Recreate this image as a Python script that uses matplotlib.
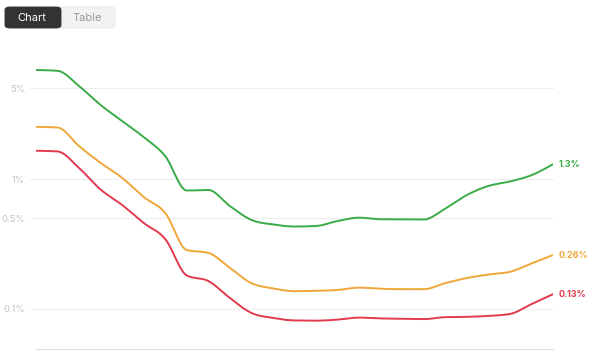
import numpy as np
import matplotlib.pyplot as plt
from matplotlib.patches import FancyBboxPatch

plt.rcParams["font.family"] = ["Inter", "DejaVu Sans"]

# 25 evenly spaced points, values in percent
green = [6.9, 6.8, 5.19, 3.71, 2.79, 2.10, 1.50, 0.816, 0.823, 0.62, 0.484, 0.447,
         0.431, 0.435, 0.475, 0.504, 0.49, 0.49, 0.488, 0.593, 0.753, 0.884, 0.957, 1.07, 1.3]
orange = [2.52, 2.49, 1.79, 1.33, 1.02, 0.727, 0.548, 0.284, 0.27, 0.207, 0.158, 0.144,
          0.137, 0.138, 0.14, 0.146, 0.143, 0.142, 0.142, 0.158, 0.173, 0.184, 0.193, 0.224, 0.26]
red = [1.65, 1.63, 1.215, 0.83, 0.631, 0.459, 0.345, 0.181, 0.164, 0.1215, 0.0932, 0.0853,
       0.0816, 0.0813, 0.0828, 0.0858, 0.0846, 0.084, 0.0835, 0.0865, 0.087, 0.0884, 0.0915, 0.109, 0.13]
end_labels = ["1.3%", "0.26%", "0.13%"]
ytick_vals = [0.1, 0.5, 1, 5]
ytick_labels = ["0.1%", "0.5%", "1%", "5%"]

colors = ["#3aab47", "#efa73a", "#e13a4c"]


def monotone(y, n=20):
    # monotone cubic (like d3 curveMonotoneX), unit spacing
    y = np.asarray(y, float)
    s = np.diff(y)
    t = np.zeros_like(y)
    for i in range(1, len(y) - 1):
        s0, s1 = s[i - 1], s[i]
        p = (s0 + s1) / 2
        if s0 * s1 > 0:
            t[i] = (np.sign(s0) + np.sign(s1)) * min(abs(s0), abs(s1), 0.5 * abs(p))
    t[0] = (3 * s[0] - t[1]) / 2
    t[-1] = (3 * s[-1] - t[-2]) / 2
    xs, ys = [], []
    u = np.linspace(0, 1, n, endpoint=False)
    for i in range(len(y) - 1):
        h00 = 2 * u**3 - 3 * u**2 + 1
        h10 = u**3 - 2 * u**2 + u
        h01 = -2 * u**3 + 3 * u**2
        h11 = u**3 - u**2
        xs.append(i + u)
        ys.append(h00 * y[i] + h10 * t[i] + h01 * y[i + 1] + h11 * t[i + 1])
    xs.append([len(y) - 1])
    ys.append([y[-1]])
    return np.concatenate(xs), np.concatenate(ys)


fig = plt.figure(figsize=(5.9, 3.54), dpi=100)
ax = fig.add_axes([36 / 590, 5 / 354, 517 / 590, 294 / 354])
ax.set_yscale("log")
ax.set_xlim(0, 24)
ax.set_ylim(0.0492, 9.0)

for v in ytick_vals:
    ax.axhline(v, xmin=-0.012, xmax=1, color="#eeeeee", lw=0.8, clip_on=False, zorder=0)

for vals, c, lab in zip([green, orange, red], colors, end_labels):
    xs, ly = monotone(np.log10(vals))
    ax.plot(xs, 10**ly, color=c, lw=1.4, solid_capstyle="round")
    ax.text(24.25, vals[-1], lab, color=c, fontsize=6.5, fontweight="bold",
            va="center", ha="left")

ax.set_yticks(ytick_vals)
ax.set_yticklabels(ytick_labels)
ax.minorticks_off()
ax.tick_params(axis="y", length=0, pad=8, labelsize=6.8, labelcolor="#c4c4c4")
ax.set_xticks([])
for side in ["top", "right", "left"]:
    ax.spines[side].set_visible(False)
ax.spines["bottom"].set_color("#dddddd")
ax.spines["bottom"].set_linewidth(0.8)

# Chart / Table toggle
fig.patches.append(FancyBboxPatch((5 / 590, 1 - 28 / 354), 110 / 590, 21 / 354,
                                  boxstyle="round,pad=0,rounding_size=0.008",
                                  transform=fig.transFigure, facecolor="#f2f2f2",
                                  edgecolor="#e8e8e8", lw=0.6))
fig.patches.append(FancyBboxPatch((5 / 590, 1 - 28 / 354), 56 / 590, 21 / 354,
                                  boxstyle="round,pad=0,rounding_size=0.008",
                                  transform=fig.transFigure, facecolor="#333333",
                                  edgecolor="#333333", lw=0.6))
fig.text(32 / 590, 1 - 18 / 354, "Chart", color="white", fontsize=8,
         ha="center", va="center")
fig.text(87.5 / 590, 1 - 18 / 354, "Table", color="#9a9a9a", fontsize=8,
         ha="center", va="center")

fig.savefig("out.png", dpi=100)
